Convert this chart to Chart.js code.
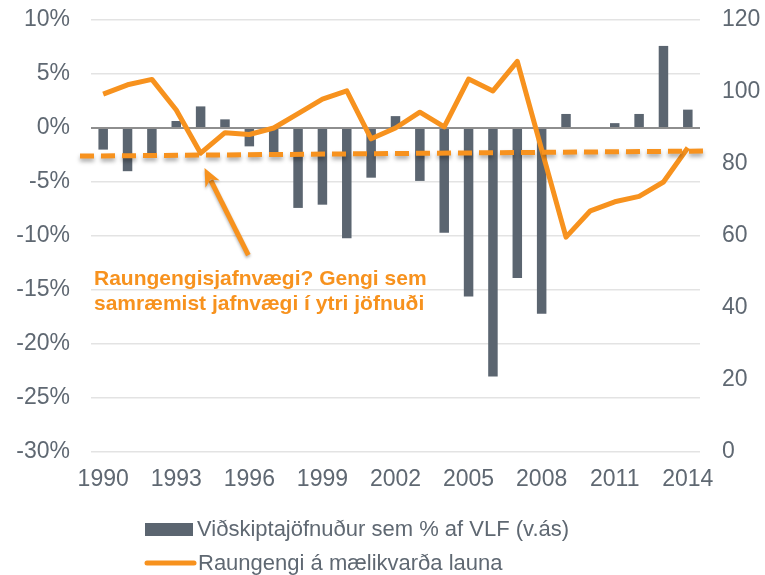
<!DOCTYPE html>
<html>
<head>
<meta charset="utf-8">
<script src="https://cdn.jsdelivr.net/npm/chart.js@4"></script>
<style>
  html, body { margin: 0; padding: 0; background: #fff; }
  #wrap { width: 765px; height: 575px; }
</style>
</head>
<body>
<div id="wrap"><canvas id="balanceChart" width="765" height="575"></canvas></div>
<script>
// data
const years = ['1990','1991','1992','1993','1994','1995','1996','1997','1998','1999','2000','2001','2002',
               '2003','2004','2005','2006','2007','2008','2009','2010','2011','2012','2013','2014'];
const currentAccount = [-2.0, -4.0, -2.4, 0.65, 2.0, 0.8, -1.7, -2.3, -7.4, -7.1, -10.2, -4.6, 1.1,
                        -4.9, -9.7, -15.6, -23.0, -13.9, -17.2, 1.3, 0, 0.45, 1.3, 7.6, 1.7];
const realRate = [99.4, 102, 103.5, 95, 83, 88.7, 88.2, 90, 94, 98, 100.3, 87, 90,
                  94.4, 90.3, 103.6, 100.3, 108.5, 84, 59.7, 67, 69.5, 71, 75, 84.5];
const xTickYears = ['1990','1993','1996','1999','2002','2005','2008','2011','2014'];
const equilibriumLine = [82.2, 83.6]; // start / end of the dashed line (right axis)

const seriesNames = ['Viðskiptajöfnuður sem % af VLF (v.ás)', 'Raungengi á mælikvarða launa'];
const noteLines = ['Raungengisjafnvægi? Gengi sem', 'samræmist jafnvægi í ytri jöfnuði'];

const ORANGE = '#F7921E';
const SLATE = '#5b6570';
const TEXT = '#5f6872';
const FONT = '"Liberation Sans", Arial, sans-serif';

// dashed line, arrow, note and legend
const extrasPlugin = {
    id: 'extras',
    afterDatasetsDraw(chart) {
        const ctx = chart.ctx;
        const x = chart.scales.x;
        const y1 = chart.scales.y1;
        const area = chart.chartArea;

        // dashed equilibrium line
        ctx.save();
        ctx.strokeStyle = ORANGE;
        ctx.lineWidth = 5;
        ctx.setLineDash([14, 7]);
        ctx.shadowColor = 'rgba(0,0,0,0.35)';
        ctx.shadowBlur = 4;
        ctx.shadowOffsetY = 3;
        ctx.beginPath();
        ctx.moveTo(area.left - 11, y1.getPixelForValue(equilibriumLine[0]));
        ctx.lineTo(area.right + 3, y1.getPixelForValue(equilibriumLine[1]));
        ctx.stroke();
        ctx.restore();

        // arrow pointing at the dashed line
        const tail = { x: x.getPixelForValue(5.96), y: y1.getPixelForValue(54.7) };
        const tip = { x: x.getPixelForValue(4.16), y: y1.getPixelForValue(78.9) };
        const ang = Math.atan2(tip.y - tail.y, tip.x - tail.x);
        const headLen = 18, headW = 8;
        ctx.save();
        ctx.shadowColor = 'rgba(0,0,0,0.3)';
        ctx.shadowBlur = 3;
        ctx.shadowOffsetY = 2;
        ctx.strokeStyle = ORANGE;
        ctx.fillStyle = ORANGE;
        ctx.lineWidth = 5;
        ctx.beginPath();
        ctx.moveTo(tail.x, tail.y);
        ctx.lineTo(tip.x - Math.cos(ang) * (headLen - 4), tip.y - Math.sin(ang) * (headLen - 4));
        ctx.stroke();
        ctx.beginPath();
        ctx.moveTo(tip.x, tip.y);
        ctx.lineTo(tip.x - Math.cos(ang) * headLen + Math.sin(ang) * headW,
                   tip.y - Math.sin(ang) * headLen - Math.cos(ang) * headW);
        ctx.lineTo(tip.x - Math.cos(ang) * (headLen - 5), tip.y - Math.sin(ang) * (headLen - 5));
        ctx.lineTo(tip.x - Math.cos(ang) * headLen - Math.sin(ang) * headW,
                   tip.y - Math.sin(ang) * headLen + Math.cos(ang) * headW);
        ctx.closePath();
        ctx.fill();
        ctx.restore();

        // note text
        ctx.save();
        ctx.fillStyle = ORANGE;
        ctx.font = 'bold 21px ' + FONT;
        ctx.textAlign = 'left';
        ctx.textBaseline = 'alphabetic';
        ctx.fillText(noteLines[0], area.left + 3, 285);
        ctx.fillText(noteLines[1], area.left + 3, 310);
        ctx.restore();
    },
    afterDraw(chart) {
        const ctx = chart.ctx;
        ctx.save();
        ctx.font = '22px ' + FONT;
        ctx.fillStyle = TEXT;
        ctx.textBaseline = 'middle';
        // bar legend item
        ctx.fillStyle = SLATE;
        ctx.fillRect(145, 523, 48, 13);
        ctx.fillStyle = TEXT;
        ctx.fillText(seriesNames[0], 197, 530);
        // line legend item
        ctx.strokeStyle = ORANGE;
        ctx.lineWidth = 5;
        ctx.lineCap = 'round';
        ctx.beginPath();
        ctx.moveTo(147, 563);
        ctx.lineTo(194, 563);
        ctx.stroke();
        ctx.fillText(seriesNames[1], 198, 564);
        ctx.restore();
    }
};

// fixed axis sizes so the plot area lines up with the reference
function fixVertical(width) {
    return scale => {
        scale.width = width;
        scale.paddingTop = 0;
        scale.paddingBottom = 0;
    };
}

const chart = new Chart(document.getElementById('balanceChart').getContext('2d'), {
    data: {
        labels: years,
        datasets: [
            {
                type: 'line',
                label: seriesNames[1],
                data: realRate,
                yAxisID: 'y1',
                borderColor: ORANGE,
                borderWidth: 5,
                pointRadius: 0,
                tension: 0,
                borderJoinStyle: 'round',
                order: 0
            },
            {
                type: 'bar',
                label: seriesNames[0],
                data: currentAccount,
                yAxisID: 'y',
                backgroundColor: SLATE,
                categoryPercentage: 1,
                barPercentage: 0.39,
                order: 1
            }
        ]
    },
    options: {
        responsive: false,
        animation: false,
        layout: { padding: { top: 20, bottom: 83, left: 0, right: 0 } },
        plugins: {
            legend: { display: false },
            tooltip: { enabled: false }
        },
        scales: {
            x: {
                grid: { display: false },
                border: { display: false },
                ticks: {
                    autoSkip: false,
                    maxRotation: 0,
                    padding: 6,
                    color: TEXT,
                    font: { family: FONT, size: 23 },
                    callback(val, i) {
                        const yr = years[i];
                        return xTickYears.includes(yr) ? yr : '';
                    }
                },
                afterFit(scale) {
                    scale.height = 40;
                    scale.paddingLeft = 0;
                    scale.paddingRight = 0;
                }
            },
            y: {
                position: 'left',
                min: -30,
                max: 10,
                border: { display: false },
                grid: {
                    drawTicks: false,
                    color: c => c.tick.value === 0 ? '#8e8e8e' : '#e3e3e3',
                    lineWidth: c => c.tick.value === 0 ? 2 : 1.5
                },
                ticks: {
                    stepSize: 5,
                    padding: 21,
                    color: TEXT,
                    font: { family: FONT, size: 23 },
                    callback: v => v + '%'
                },
                afterFit: fixVertical(91)
            },
            y1: {
                position: 'right',
                min: 0,
                max: 120,
                border: { display: false },
                grid: { display: false, drawTicks: false },
                ticks: {
                    stepSize: 20,
                    padding: 22,
                    color: TEXT,
                    font: { family: FONT, size: 23 }
                },
                afterFit: fixVertical(65)
            }
        }
    },
    plugins: [extrasPlugin]
});
</script>
</body>
</html>
